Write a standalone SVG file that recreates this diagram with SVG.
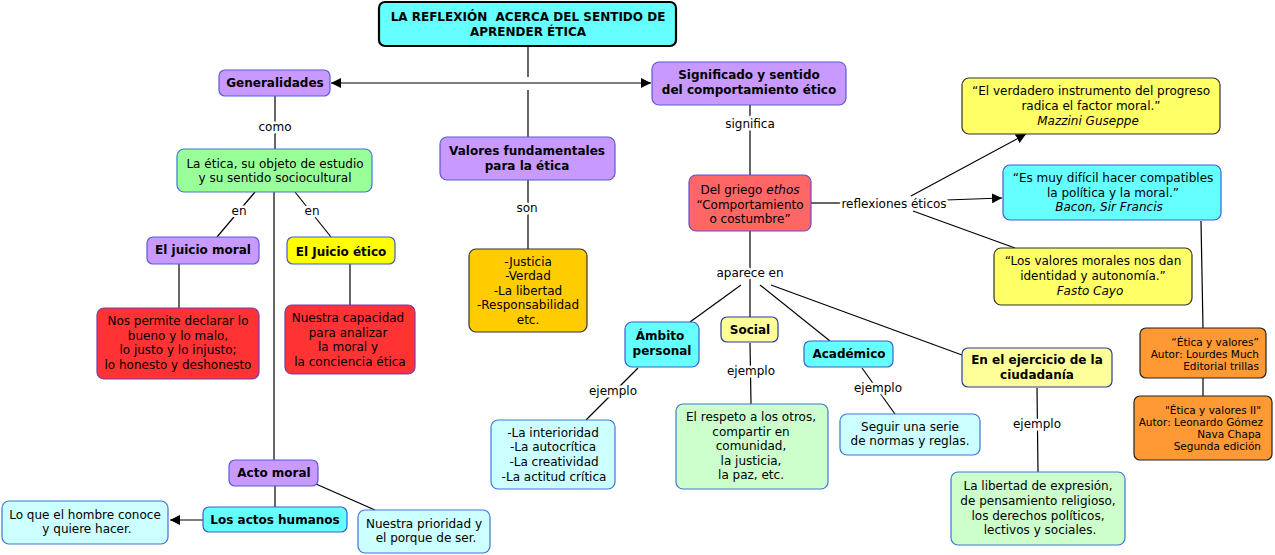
<svg xmlns="http://www.w3.org/2000/svg" width="1275" height="555" viewBox="0 0 1275 555">
<style>
text{font-family:"DejaVu Sans",Verdana,sans-serif;font-size:12px;fill:#000;text-anchor:middle}
.b{font-weight:bold}
.i{font-style:italic}
.lbl{paint-order:stroke;stroke:#fff;stroke-width:5px;stroke-linejoin:round}
.ln{stroke:#000;stroke-width:1.2;fill:none}
.box{stroke-width:1.2}
.pur{fill:#C899FF;stroke:#5B5BD6}
.cyan{fill:#66FFFF;stroke:#3A5FCD}
.lcyan{fill:#CCFFFF;stroke:#3A78D6}
.lgreen{fill:#CCFFCC;stroke:#3A78D6}
.green{fill:#99FF99;stroke:#3A78D6}
.yel{fill:#FFFF66;stroke:#333}
.lyel{fill:#FFFF99;stroke:#2B3BA0}
.yy{fill:#FFFF00;stroke:#3A5FCD}
.red{fill:#FF3333;stroke:#7A3AB0}
.salmon{fill:#FF6666;stroke:#6A4ACD}
.gold{fill:#FFCC00;stroke:#333}
.orange{fill:#FF9933;stroke:#222}
.r{text-anchor:end;font-size:10.5px}
</style>
<defs>
<marker id="ah" viewBox="0 0 10 10" refX="10" refY="5" markerWidth="10" markerHeight="10" markerUnits="userSpaceOnUse" orient="auto">
<path d="M0,0 L10,5 L0,10 z" fill="#000"/>
</marker>
</defs>
<g id="connectors">
<line class="ln" x1="528" y1="46" x2="528" y2="77"/>
<line class="ln" x1="528" y1="90" x2="528" y2="137"/>
<line class="ln" x1="528" y1="83" x2="331" y2="83" marker-end="url(#ah)"/>
<line class="ln" x1="528" y1="83" x2="651" y2="83" marker-end="url(#ah)"/>
<line class="ln" x1="750" y1="105" x2="750" y2="175"/>
<line class="ln" x1="811" y1="203" x2="842" y2="203"/>
<line class="ln" x1="911" y1="196" x2="1026" y2="134" marker-end="url(#ah)"/>
<line class="ln" x1="946" y1="200" x2="1002" y2="198" marker-end="url(#ah)"/>
<line class="ln" x1="913" y1="211" x2="1015" y2="248"/>
<line class="ln" x1="1201" y1="221" x2="1203" y2="328"/>
<line class="ln" x1="1203" y1="378" x2="1203" y2="396"/>
<line class="ln" x1="750" y1="231" x2="750" y2="318"/>
<line class="ln" x1="741" y1="285" x2="690" y2="322"/>
<line class="ln" x1="760" y1="285" x2="830" y2="341"/>
<line class="ln" x1="771" y1="285" x2="962" y2="355"/>
<line class="ln" x1="638" y1="368" x2="586" y2="420"/>
<line class="ln" x1="750" y1="343" x2="751" y2="404"/>
<line class="ln" x1="862" y1="368" x2="895" y2="414"/>
<line class="ln" x1="1037" y1="388" x2="1038" y2="472"/>
<line class="ln" x1="528" y1="180" x2="528" y2="249"/>
<line class="ln" x1="275" y1="96" x2="275" y2="149"/>
<line class="ln" x1="255" y1="192" x2="217" y2="237"/>
<line class="ln" x1="295" y1="192" x2="331" y2="237"/>
<line class="ln" x1="274" y1="192" x2="274" y2="460"/>
<line class="ln" x1="179" y1="264" x2="179" y2="308"/>
<line class="ln" x1="350" y1="264" x2="350" y2="305"/>
<line class="ln" x1="275" y1="486" x2="275" y2="507"/>
<line class="ln" x1="316" y1="484" x2="375" y2="510"/>
<line class="ln" x1="203" y1="520" x2="170" y2="520" marker-end="url(#ah)"/>
<text class="lbl" x="750" y="128">significa</text>
<text class="lbl" x="894" y="208">reflexiones éticos</text>
<text class="lbl" x="750" y="277">aparece en</text>
<text class="lbl" x="613" y="395">ejemplo</text>
<text class="lbl" x="751" y="375">ejemplo</text>
<text class="lbl" x="878" y="392">ejemplo</text>
<text class="lbl" x="1037" y="428">ejemplo</text>
<text class="lbl" x="527" y="212">son</text>
<text class="lbl" x="275" y="131">como</text>
<text class="lbl" x="239" y="215">en</text>
<text class="lbl" x="312" y="215">en</text>
</g>
<g id="title">
<rect x="379" y="2" width="297" height="44" rx="6" fill="#66FFFF" stroke="#000" stroke-width="2.2"/>
<text class="b" x="528" y="21" style="white-space:pre">LA REFLEXIÓN  ACERCA DEL SENTIDO DE</text>
<text class="b" x="528" y="36">APRENDER ÉTICA</text>
</g>
<g id="generalidades">
<rect class="box pur" x="219" y="70" width="111" height="26" rx="6"/>
<text class="b" x="275" y="87">Generalidades</text>
</g>
<g id="significado">
<rect class="box pur" x="652" y="62" width="194" height="43" rx="7"/>
<text class="b" x="749" y="79">Significado y sentido</text>
<text class="b" x="749" y="94">del comportamiento ético</text>
</g>
<g id="delgriego">
<rect class="box salmon" x="689" y="175" width="122" height="56" rx="7"/>
<text x="750" y="194">Del griego <tspan class="i">ethos</tspan></text>
<text x="750" y="209">“Comportamiento</text>
<text x="750" y="223">o costumbre”</text>
</g>
<g id="mazzini">
<rect class="box yel" x="962" y="78" width="258" height="56" rx="7"/>
<text x="1091" y="95">“El verdadero instrumento del progreso</text>
<text x="1091" y="110">radica el factor moral.”</text>
<text class="i" x="1088" y="125">Mazzini Guseppe</text>
</g>
<g id="bacon">
<rect class="box cyan" x="1003" y="165" width="218" height="55" rx="7"/>
<text x="1113" y="182">“Es muy difícil hacer compatibles</text>
<text x="1113" y="197">la política y la moral.”</text>
<text class="i" x="1109" y="211">Bacon, Sir Francis</text>
</g>
<g id="fasto">
<rect class="box yel" x="994" y="248" width="198" height="57" rx="7"/>
<text x="1093" y="265">“Los valores morales nos dan</text>
<text x="1093" y="280">identidad y autonomía.”</text>
<text class="i" x="1090" y="295">Fasto Cayo</text>
</g>
<g id="libro1">
<rect class="box orange" x="1140" y="328" width="126" height="50" rx="6"/>
<text class="r" x="1259" y="346">“Ética y valores”</text>
<text class="r" x="1259" y="358">Autor: Lourdes Much</text>
<text class="r" x="1259" y="370">Editorial trillas</text>
</g>
<g id="libro2">
<rect class="box orange" x="1134" y="396" width="138" height="64" rx="6"/>
<text class="r" x="1261" y="414">"Ética y valores II"</text>
<text class="r" x="1263" y="426">Autor: Leonardo Gómez</text>
<text class="r" x="1261" y="438">Nava Chapa</text>
<text class="r" x="1261" y="450">Segunda edición</text>
</g>
<g id="ambito">
<rect class="box cyan" x="625" y="322" width="74" height="45" rx="7"/>
<text class="b" x="660" y="340">Ámbito</text>
<text class="b" x="662" y="355">personal</text>
</g>
<g id="social">
<rect class="box lyel" x="721" y="317" width="57" height="25" rx="6"/>
<text class="b" x="750" y="334">Social</text>
</g>
<g id="academico">
<rect class="box cyan" x="804" y="341" width="89" height="26" rx="6"/>
<text class="b" x="849" y="358">Académico</text>
</g>
<g id="ejercicio">
<rect class="box lyel" x="962" y="348" width="150" height="39" rx="6"/>
<text class="b" x="1037" y="364">En el ejercicio de la</text>
<text class="b" x="1037" y="379">ciudadanía</text>
</g>
<g id="interioridad">
<rect class="box lcyan" x="491" y="420" width="124" height="69" rx="7"/>
<text x="553" y="437">-La interioridad</text>
<text x="553" y="451">-La autocrítica</text>
<text x="554" y="466">-La creatividad</text>
<text x="554" y="481">-La actitud crítica</text>
</g>
<g id="respeto">
<rect class="box lgreen" x="676" y="404" width="152" height="85" rx="7"/>
<text x="751" y="421">El respeto a los otros,</text>
<text x="751" y="436">compartir en</text>
<text x="751" y="450">comunidad,</text>
<text x="751" y="465">la justicia,</text>
<text x="751" y="479">la paz, etc.</text>
</g>
<g id="normas">
<rect class="box lcyan" x="840" y="414" width="140" height="41" rx="7"/>
<text x="910" y="431">Seguir una serie</text>
<text x="910" y="445">de normas y reglas.</text>
</g>
<g id="libertad">
<rect class="box lgreen" x="951" y="472" width="174" height="73" rx="7"/>
<text x="1038" y="490">La libertad de expresión,</text>
<text x="1038" y="505">de pensamiento religioso,</text>
<text x="1038" y="520">los derechos políticos,</text>
<text x="1040" y="534">lectivos y sociales.</text>
</g>
<g id="valores">
<rect class="box pur" x="440" y="137" width="175" height="43" rx="7"/>
<text class="b" x="527" y="155">Valores fundamentales</text>
<text class="b" x="527" y="170">para la ética</text>
</g>
<g id="lista">
<rect class="box gold" x="469" y="249" width="118" height="83" rx="7"/>
<text x="528" y="266">-Justicia</text>
<text x="528" y="280">-Verdad</text>
<text x="528" y="295">-La libertad</text>
<text x="528" y="309">-Responsabilidad</text>
<text x="528" y="324">etc.</text>
</g>
<g id="laetica">
<rect class="box green" x="177" y="149" width="195" height="43" rx="7"/>
<text x="275" y="168">La ética, su objeto de estudio</text>
<text x="275" y="182">y su sentido sociocultural</text>
</g>
<g id="juiciomoral">
<rect class="box pur" x="147" y="237" width="112" height="27" rx="6"/>
<text class="b" x="203" y="254">El juicio moral</text>
</g>
<g id="juicioetico">
<rect class="box yy" x="287" y="237" width="108" height="27" rx="6"/>
<text class="b" x="341" y="256">El Juicio ético</text>
</g>
<g id="permite">
<rect class="box red" x="97" y="308" width="162" height="71" rx="7"/>
<text x="178" y="325">Nos permite declarar lo</text>
<text x="178" y="340">bueno y lo malo,</text>
<text x="178" y="354">lo justo y lo injusto;</text>
<text x="178" y="369">lo honesto y deshonesto</text>
</g>
<g id="capacidad">
<rect class="box red" x="285" y="305" width="130" height="69" rx="7"/>
<text x="348" y="322">Nuestra capacidad</text>
<text x="348" y="337">para analizar</text>
<text x="348" y="351">la moral y</text>
<text x="350" y="366">la conciencia ética</text>
</g>
<g id="actomoral">
<rect class="box pur" x="229" y="460" width="89" height="26" rx="6"/>
<text class="b" x="274" y="477">Acto moral</text>
</g>
<g id="actoshumanos">
<rect class="box cyan" x="203" y="507" width="144" height="25" rx="6"/>
<text class="b" x="275" y="524">Los actos humanos</text>
</g>
<g id="loque">
<rect class="box lcyan" x="2" y="501" width="166" height="43" rx="7"/>
<text x="85" y="519">Lo que el hombre conoce</text>
<text x="87" y="533">y quiere hacer.</text>
</g>
<g id="prioridad">
<rect class="box lcyan" x="358" y="510" width="132" height="43" rx="7"/>
<text x="424" y="528">Nuestra prioridad y</text>
<text x="426" y="542">el porque de ser.</text>
</g>
</svg>
